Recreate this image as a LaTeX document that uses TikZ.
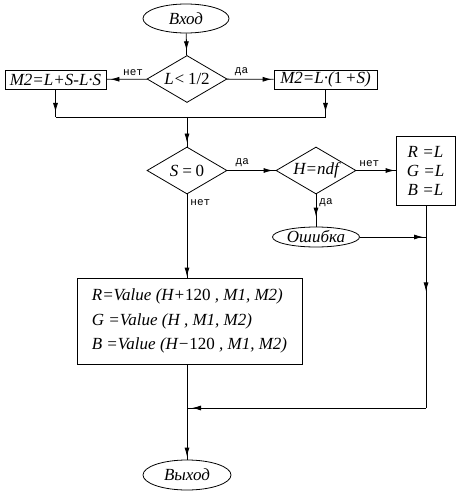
\documentclass[tikz,border=0pt]{standalone}
\usepackage{fontspec}
\setmainfont{Liberation Serif}
\newfontfamily\labelfont{Liberation Mono}
\usetikzlibrary{shapes.geometric,arrows.meta,decorations.markings}

\begin{document}
\begin{tikzpicture}[x=1pt,y=-1pt,line width=0.8pt,
    font=\fontsize{17}{19}\selectfont\itshape,
    blk/.style={draw,rectangle,inner sep=0pt},
    term/.style={draw,ellipse,inner sep=0pt},
    cond/.style={draw,diamond,aspect=1.7,inner sep=0pt,minimum width=80pt,minimum height=47pt},
    lbl/.style={font=\fontsize{11}{12}\selectfont\labelfont\upshape,inner sep=3pt},
    arr/.style={postaction={decorate},decoration={markings,mark=at position #1 with {\arrow{Latex[length=9pt,width=5pt]}}}},
    arr/.default=-3pt]
    \useasboundingbox (0,0) rectangle (459,494);
    \node[term,minimum width=86pt,minimum height=29pt] (entry) at (186,18.5) {Вход};
    \node[cond] (cond1) at (187,79) {L<\,\upshape1/2};
    \node[blk,minimum width=101pt,minimum height=19pt] (boxL) at (55.5,79.5) {M2=L+S-L·S};
    \node[blk,minimum width=103pt,minimum height=19pt] (boxR) at (325.5,79.5) {M2=L·(\upshape1\itshape\,+S)};
    \coordinate (merge) at (187,117);
    \node[cond] (cond2) at (187,170.5) {S\,=\,\upshape0};
    \node[cond] (cond3) at (316,170.5) {H=ndf};
    \node[blk,minimum width=59pt,minimum height=69pt,align=center] (rgb) at (425.5,170.5) {R =L\\G =L\\B =L};
    \node[term,minimum width=87pt,minimum height=20pt] (err) at (316,237) {Ошибка};
    \node[blk,minimum width=225pt,minimum height=86pt,align=left,font=\fontsize{17}{24.5}\selectfont\itshape] (value) at (189.5,321)
      {R=Value (H+\upshape120\itshape{} , M1, M2)\\G =Value (H , M1, M2)\\B =Value (H−\upshape120\itshape{} , M1, M2)};
    \coordinate (back) at (426,408);
    \node[term,minimum width=88pt,minimum height=30pt] (exit) at (187,475) {Выход};

    \draw[arr=-5pt] (entry) -- (cond1);
    \draw[arr=-4pt] (cond1) -- node[lbl,above,pos=0.34] {нет} (boxL);
    \draw[arr=-2pt] (cond1) -- node[lbl,above,pos=0.31] {да} (boxR);
    \draw[arr=-5pt] (boxL) -- (boxL |- merge);
    \draw[arr=-5pt] (boxR) -- (boxR |- merge);
    \draw (boxL |- merge) -- (boxR |- merge);
    \draw[arr=-4pt] (merge) -- (cond2);
    \draw[arr=-3pt] (cond2) -- node[lbl,above,pos=0.31] {да} (cond3);
    \draw[arr=-1pt] (cond3) -- node[lbl,above,pos=0.33] {нет} (rgb);
    \draw[arr=-10pt] (cond3) -- node[lbl,right,pos=0.25] {да} (err);
    \draw[arr=-1pt] (cond2) -- node[lbl,right,pos=0.1] {нет} (cond2 |- value.north);
    \draw[arr=-3pt] (err) -- (err -| back);
    \draw[arr=86pt] (rgb.south -| back) -- (back);
    \draw[arr=-5pt] (back) -- (back -| exit);
    \draw[arr=-3pt] (value.south -| exit) -- (exit);
\end{tikzpicture}
\end{document}
